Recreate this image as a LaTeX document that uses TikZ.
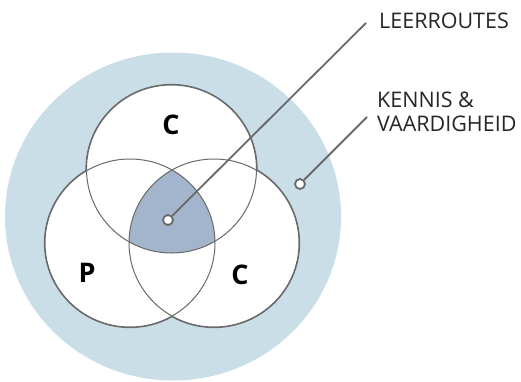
\documentclass[tikz,border=0pt]{standalone}
\usepackage{fontspec}
\setmainfont{Open Sans}
\usetikzlibrary{positioning}
\definecolor{ring}{RGB}{202,222,232}
\definecolor{core}{RGB}{163,181,204}
\definecolor{edge}{RGB}{105,105,105}

\begin{document}
\begin{tikzpicture}[
    x=1pt, y=-1pt,
    dot/.style={circle, draw=edge, fill=white, line width=1.8pt, minimum size=10pt, inner sep=0pt},
    lead/.style={draw=edge, line width=1.8pt},
    tag/.style={anchor=west, align=left, inner sep=0pt, text=black!85, font=\fontsize{21.5}{24}\selectfont},
    letter/.style={inner sep=0pt, font=\fontsize{27}{30}\selectfont\bfseries}
]
\useasboundingbox (0,0) rectangle (521,381);

% outer ring
\fill[ring] (173,216.5) ellipse [x radius=168pt, y radius=164pt];

% the three circles
\coordinate (cTop) at (171.5,169);
\coordinate (cLeft) at (130,243);
\coordinate (cRight) at (214,243);
\foreach \c in {cTop,cLeft,cRight}
    \draw[edge, fill=white, line width=2.2pt] (\c) ellipse [x radius=85pt, y radius=84pt];
\foreach \c in {cTop,cLeft,cRight}
    \fill[white] (\c) ellipse [x radius=85pt, y radius=84pt];

% shared part
\begin{scope}
    \clip (cTop) ellipse [x radius=85pt, y radius=84pt];
    \clip (cLeft) ellipse [x radius=85pt, y radius=84pt];
    \fill[core] (cRight) ellipse [x radius=85pt, y radius=84pt];
\end{scope}
\foreach \c in {cTop,cLeft,cRight}
    \draw[edge, line width=1pt] (\c) ellipse [x radius=85pt, y radius=84pt];

\node[letter] (lTop) at (171,125) {C};
\node[letter] (lLeft) at (87,273) {P};
\node[letter] (lRight) at (240,275) {C};

% labels
\node[dot] (lr) at (168,220) {};
\coordinate (lrEnd) at (366,23);
\draw[lead] (lr) -- (lrEnd);
\node[tag] (lrText) at (379,21) {LEERROUTES};

\node[dot] (kv) at (300,184) {};
\coordinate (kvEnd) at (367,117);
\draw[lead] (kv) -- (kvEnd);
\node[tag] (kvText) at (377,112) {KENNIS \&\\VAARDIGHEID};
\end{tikzpicture}
\end{document}
